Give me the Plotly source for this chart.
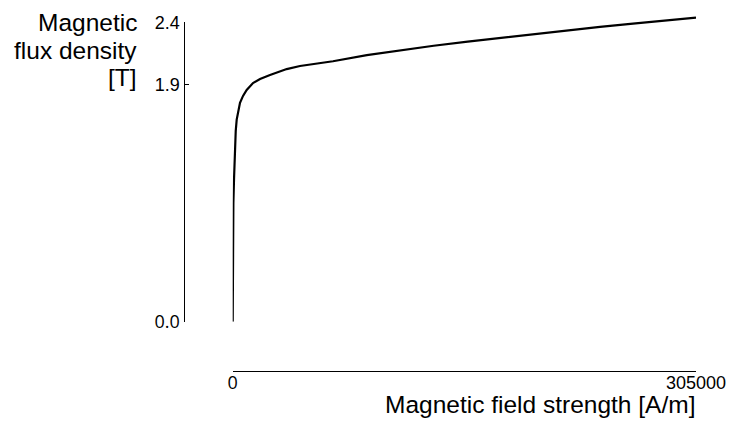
import plotly.graph_objects as go

# ---- data ----
field_strength = [0, 100, 250, 450, 860, 1100, 1514, 2000, 2633, 3500, 4806, 6800,
                  9216, 13363, 18000, 24555, 35548, 44300, 57470, 66000, 88300,
                  110600, 132300, 154700, 176000, 197700, 220100, 241800, 263500,
                  285900, 305000]
flux_density = [0, 0.35, 0.7, 0.95, 1.14, 1.28, 1.43, 1.53, 1.62, 1.69, 1.755, 1.81,
                1.857, 1.913, 1.945, 1.977, 2.025, 2.05, 2.072, 2.088, 2.137,
                2.178, 2.212, 2.245, 2.275, 2.305, 2.335, 2.363, 2.389, 2.414, 2.437]
x_tickvals = [0, 305000]
x_ticktext = ["0", "305000"]
y_tickvals = [0.0, 1.9, 2.4]
y_ticktext = ["0.0", "1.9", "2.4"]
x_title = "Magnetic field strength [A/m]"
y_title_lines = ["Magnetic", "flux density", "[T]"]

# ---- layout geometry (pixels) ----
W, H = 731, 421
x0_px, x1_px = 232.7, 696.0       # H = 0 and H = 305000
y0_px, y1_px = 321.7, 22.3        # B = 0 and B = 2.4
ytop_px = 4.0                     # extra room for curve above 2.4
xaxis_line_px = 370.7
yaxis_line_px = 184.3


def px_x(p):
    return p / W


def px_y(p):
    return 1 - p / H


ppu = (y0_px - y1_px) / 2.4
y2_top = (y0_px - ytop_px) / ppu

FONT = "Liberation Sans, Arial, sans-serif"
ALT = "Open Sans"


def alt_font(t):
    if t.startswith("0"):
        return '<span style="font-family:%s">%s</span>' % (ALT, t)
    return t


fig = go.Figure()
fig.add_trace(go.Scatter(x=field_strength, y=flux_density, mode="lines",
                         line=dict(color="black", width=2.2),
                         xaxis="x", yaxis="y2", hoverinfo="skip",
                         showlegend=False))
# invisible trace so the x/y subplot (and its free y axis) is drawn
fig.add_trace(go.Scatter(x=[0], y=[0], mode="markers", marker=dict(opacity=0),
                         xaxis="x", yaxis="y", hoverinfo="skip", showlegend=False))

axis_common = dict(showgrid=False, zeroline=False, showline=True,
                   linecolor="black", linewidth=1, ticks="inside", ticklen=4,
                   tickcolor="black", tickwidth=1,
                   tickfont=dict(family=FONT, size=18, color="black"))

fig.update_layout(
    width=W, height=H,
    margin=dict(l=0, r=0, t=0, b=0),
    paper_bgcolor="white", plot_bgcolor="white",
    xaxis=dict(domain=[px_x(x0_px), px_x(x1_px)], range=[0, 305000],
               anchor="free", position=px_y(xaxis_line_px),
               tickmode="array", tickvals=x_tickvals,
               ticktext=[alt_font(t) for t in x_ticktext],
               ticklabelstandoff=-4,
               automargin=False, **axis_common),
    yaxis=dict(domain=[px_y(y0_px), px_y(y1_px)], range=[0, 2.4],
               anchor="free", position=px_x(yaxis_line_px),
               tickmode="array", tickvals=y_tickvals,
               ticktext=[alt_font(t) for t in y_ticktext],
               ticklabelstandoff=1,
               automargin=False, **axis_common),
    yaxis2=dict(domain=[px_y(y0_px), px_y(ytop_px)], range=[0, y2_top],
                anchor="x", visible=False, showgrid=False, zeroline=False),
    showlegend=False,
)

for line, cy in zip(y_title_lines, [23.0, 50.7, 77.5]):
    fig.add_annotation(text=line, xref="paper", yref="paper",
                       x=px_x(138.5), y=px_y(cy), xanchor="right", yanchor="middle",
                       align="right", showarrow=False,
                       font=dict(family=FONT, size=24.5, color="black"))
fig.add_annotation(text=x_title, xref="paper", yref="paper",
                   x=px_x(697), y=px_y(404.5), xanchor="right", yanchor="middle",
                   align="right", showarrow=False,
                   font=dict(family=FONT, size=24.5, color="black"))

fig.write_html("out.html", config={"displayModeBar": False},
               post_script="document.body.style.margin='0';")
